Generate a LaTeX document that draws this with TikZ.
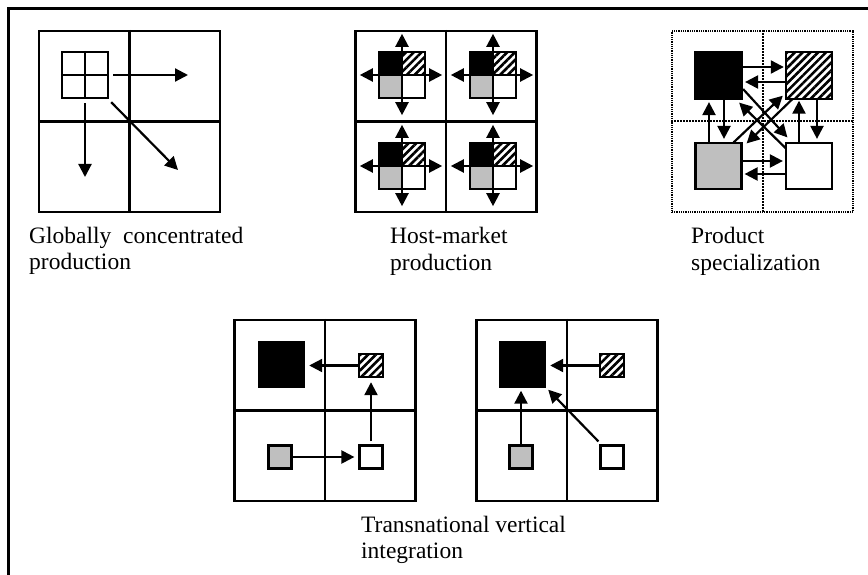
\documentclass[tikz,border=0pt]{standalone}
\usepackage{fontspec}
\setmainfont{Liberation Serif}
\usetikzlibrary{arrows.meta,patterns.meta,calc}
\begin{document}
\begin{tikzpicture}[x=1pt,y=-1pt,
  panel/.style={draw,line width=2.4pt,minimum size=181pt,inner sep=0pt},
  dpanel/.style={draw,line width=1.5pt,dash pattern=on 1pt off 0.8pt,minimum size=181pt,inner sep=0pt},
  midline/.style={line width=2.4pt},
  dmidline/.style={line width=2pt,dash pattern=on 1.6pt off 1.4pt},
  cell/.style={minimum size=#1,inner sep=0pt},
  edge/.style={line width=2.2pt},
  hatch/.style={pattern={Lines[angle=45,distance=5.5pt,line width=2.6pt]}},
  grayfill/.style={fill=black!25},
  arr/.style={line width=2.2pt,-{Triangle[length=13pt,width=13pt]}},
  darr/.style={line width=2.2pt,{Triangle[length=13pt,width=13pt]}-{Triangle[length=13pt,width=13pt]}},
  lbl/.style={anchor=base west,inner sep=0pt,font=\fontsize{23.5}{27}\selectfont}]
\useasboundingbox (0,0) rectangle (868,575);
% outer frame
\draw[line width=3pt] (8,575) -- (8,9) -- (868,9);

% ---------- Panel 1: globally concentrated production
\node[panel] (p1) at (129.5,121.5) {};
\draw[midline] (p1.north) -- (p1.south) (p1.west) -- (p1.east);
\node[cell=46pt,draw,line width=2.4pt] (s1) at (85,75) {};
\draw[midline] (s1.north) -- (s1.south) (s1.west) -- (s1.east);
\coordinate (e1) at (188,75);
\coordinate (e2) at (85,177);
\coordinate (e3) at (178,170);
\draw[arr] ($(s1.east)+(4,0)$) -- (e1);
\draw[arr] ($(s1.south)+(0,4)$) -- (e2);
\draw[arr] ($(s1.south east)+(2,3)$) -- (e3);
\node[lbl] (t1a) at (29,243) {Globally~~concentrated};
\node[lbl] (t1b) at (29,269) {production};

% ---------- Panel 2: host-market production
\node[panel] (p2) at (446,121.5) {};
\draw[midline] (p2.north) -- (p2.south) (p2.west) -- (p2.east);
\foreach \n/\x/\y in {1/402/75,2/493/75,3/402/166,4/493/166}{
  \node[cell=46pt] (hm\n) at (\x,\y) {};
  \fill[black] (hm\n.north west) rectangle (hm\n.center);
  \fill[hatch] (hm\n.north) rectangle (hm\n.east);
  \fill[grayfill] (hm\n.west) rectangle (hm\n.south);
  \draw[edge] (hm\n.north west) rectangle (hm\n.south east);
  \draw[darr] ($(hm\n.north)+(0,-18)$) -- ($(hm\n.south)+(0,17)$);
  \draw[darr] ($(hm\n.west)+(-19,0)$) -- ($(hm\n.east)+(17,0)$);
}
\node[lbl] (t2a) at (390,243) {Host-market};
\node[lbl] (t2b) at (390,270) {production};

% ---------- Panel 3: product specialization
\node[dpanel] (p3) at (762.5,121.5) {};
\draw[dmidline] (p3.north) -- (p3.south) (p3.west) -- (p3.east);
\node[cell=47pt,draw,edge,fill=black] (b3) at (718.5,75.5) {};
\node[cell=46pt] (h3) at (809,75.5) {};
\fill[hatch] (h3.north west) rectangle (h3.south east);
\draw[edge] (h3.north west) rectangle (h3.south east);
\node[cell=46pt,draw,edge,grayfill] (g3) at (718.5,166) {};
\node[cell=46pt,draw,edge,fill=white] (w3) at (809,166) {};
\draw[arr] ($(b3.east)+(0,-8.5)$) -- ($(h3.west)+(-2,-8.5)$);
\draw[arr] ($(h3.west)+(0,6.5)$) -- ($(b3.east)+(2,6.5)$);
\draw[arr] ($(b3.south)+(5.5,0)$) -- ($(g3.north)+(5.5,-3)$);
\draw[arr] ($(g3.north)+(-9.5,0)$) -- ($(b3.south)+(-9.5,2)$);
\draw[arr] ($(h3.south)+(8,0)$) -- ($(w3.north)+(8,-3)$);
\draw[arr] ($(w3.north)+(-10,0)$) -- ($(h3.south)+(-10,2)$);
\draw[arr] ($(g3.east)+(0,-5)$) -- ($(w3.west)+(-2,-5)$);
\draw[arr] ($(w3.west)+(0,8)$) -- ($(g3.east)+(2,8)$);
\draw[arr] ($(b3.south east)+(0,-11)$) -- ($(w3.north west)+(2.5,-4.5)$);
\draw[arr] ($(w3.north west)+(1,6.5)$) -- ($(b3.south east)+(-4,2.5)$);
\draw[arr] ($(g3.north east)+(-9,0.5)$) -- ($(h3.south west)+(-3,-3)$);
\draw[arr] ($(h3.south west)+(7,0)$) -- ($(g3.north east)+(4,1.5)$);
\node[lbl] (t3a) at (691,243) {Product};
\node[lbl] (t3b) at (691,270) {specialization};

% ---------- Panel 4: transnational vertical integration (a)
\node[panel] (p4) at (325,410.5) {};
\draw[midline] (p4.north) -- (p4.south) (p4.west) -- (p4.east);
\node[cell=47pt,fill=black] (b4) at (281.5,364) {};
\node[cell=23pt] (h4) at (371,365.5) {};
\fill[hatch] (h4.north west) rectangle (h4.south east);
\draw[edge] (h4.north west) rectangle (h4.south east);
\node[cell=23pt,draw,edge,grayfill] (g4) at (280,457) {};
\node[cell=23pt,draw,edge,fill=white] (w4) at (371,457) {};
\draw[arr] (h4.west) -- ($(b4.east |- h4.west)+(4,0)$);
\draw[arr] ($(w4.north)+(0,-3)$) -- ($(h4.south)+(0,5)$);
\draw[arr] (g4.east) -- ($(w4.west)+(-4,0)$);

% ---------- Panel 5: transnational vertical integration (b)
\node[panel] (p5) at (567,410.5) {};
\draw[midline] (p5.north) -- (p5.south) (p5.west) -- (p5.east);
\node[cell=47pt,fill=black] (b5) at (522.5,364) {};
\node[cell=23pt] (h5) at (612,365.5) {};
\fill[hatch] (h5.north west) rectangle (h5.south east);
\draw[edge] (h5.north west) rectangle (h5.south east);
\node[cell=23pt,draw,edge,grayfill] (g5) at (521,457) {};
\node[cell=23pt,draw,edge,fill=white] (w5) at (612,457) {};
\draw[arr] (h5.west) -- ($(b5.east |- h5.west)+(4,0)$);
\draw[arr] (g5.north) -- ($(g5.north |- b5.south)+(0,3)$);
\draw[arr] ($(w5.north west)+(-1,-3)$) -- ($(b5.south east)+(2,2)$);

\node[lbl] (t4a) at (361,532) {Transnational vertical};
\node[lbl] (t4b) at (361,558) {integration};
\end{tikzpicture}
\end{document}
